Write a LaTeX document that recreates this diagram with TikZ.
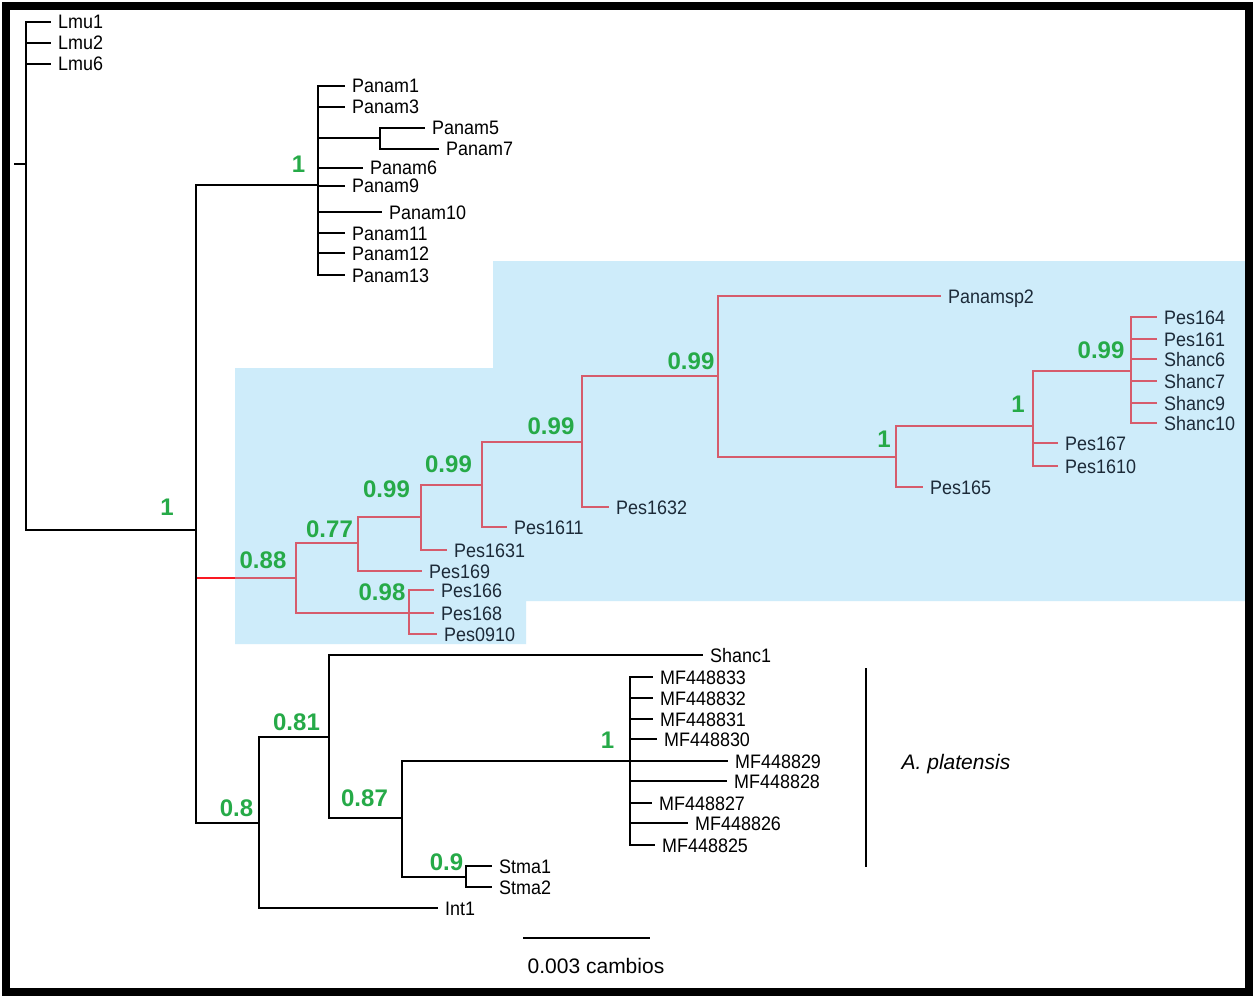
\documentclass[tikz,border=0pt]{standalone}
\usepackage{fontspec}
\setmainfont{Liberation Sans}
\newfontfamily\tipfont[FakeStretch=0.92]{Liberation Sans}
\definecolor{suppgreen}{RGB}{38,170,72}
\definecolor{brightred}{RGB}{250,25,35}
\definecolor{cladered}{RGB}{214,92,108}
\definecolor{hlblue}{RGB}{206,236,250}
\definecolor{cladetext}{RGB}{28,42,56}
\newcommand\mytip[5]{%
  \coordinate (t#1) at (#2,#3);
  \draw[#5] (#4) |- (t#1);
  \node[tiplab,#5lab] (l#1) at (t#1) {#1};}
\newcommand\myint[5]{%
  \coordinate (#1) at (#2,#3);
  \draw[#5] (#4) |- (#1);}
\begin{document}
\begin{tikzpicture}[x=1pt,y=-1pt,
  blk/.style={draw=black,line width=1.3pt},
  redb/.style={draw=cladered,line width=1.3pt},
  blklab/.style={text=black},
  redblab/.style={text=cladetext},
  tiplab/.style={anchor=west,inner xsep=7pt,inner ysep=0pt,
    font=\tipfont\fontsize{19.5}{19.5}\selectfont,text height=14pt,text depth=0pt},
  supp/.style={anchor=center,inner sep=0pt,text=suppgreen,
    font=\bfseries\fontsize{24}{24}\selectfont,text height=17pt,text depth=0pt}]
\useasboundingbox (0,0) rectangle (1257,995);
\fill[white] (0,0) rectangle (1257,995);

% highlighted region
\fill[hlblue]
  (235,368) -- (493,368) -- (493,261) -- (1247,261) -- (1247,601)
  -- (526,601) -- (526,644) -- (235,644) -- cycle;

% root
\coordinate (R) at (26,164);
\coordinate (Rtick) at (14,164);
\draw[blk] (Rtick) -- (R);
\mytip{Lmu1}{51}{22}{R}{blk}
\mytip{Lmu2}{51}{43}{R}{blk}
\mytip{Lmu6}{51}{64}{R}{blk}
\coordinate (N1) at (196,530);

% red clade (drawn first)
\myint{A88}{296}{578}{N1}{redb}
\coordinate (A88in) at (235,578);
\draw[brightred,line width=1.3pt] (N1 |- A88) -- (A88in);
\myint{A77}{358}{543}{A88}{redb}
\myint{A98}{409}{613}{A88}{redb}
\myint{A99a}{421}{517}{A77}{redb}
\mytip{Pes169}{422}{571}{A77}{redb}
\myint{A99b}{482}{485}{A99a}{redb}
\mytip{Pes1631}{447}{550}{A99a}{redb}
\myint{A99c}{582}{442}{A99b}{redb}
\mytip{Pes1611}{507}{527}{A99b}{redb}
\myint{A99d}{718}{376}{A99c}{redb}
\mytip{Pes1632}{609}{507}{A99c}{redb}
\mytip{Panamsp2}{941}{296}{A99d}{redb}
\myint{A1a}{896}{457}{A99d}{redb}
\myint{A1b}{1033}{426}{A1a}{redb}
\mytip{Pes165}{923}{487}{A1a}{redb}
\myint{A99e}{1131}{371}{A1b}{redb}
\mytip{Pes167}{1058}{443}{A1b}{redb}
\mytip{Pes1610}{1058}{466}{A1b}{redb}
\mytip{Pes164}{1157}{317}{A99e}{redb}
\mytip{Pes161}{1157}{339}{A99e}{redb}
\mytip{Shanc6}{1157}{359}{A99e}{redb}
\mytip{Shanc7}{1157}{381}{A99e}{redb}
\mytip{Shanc9}{1157}{403}{A99e}{redb}
\mytip{Shanc10}{1157}{423}{A99e}{redb}
\mytip{Pes166}{434}{590}{A98}{redb}
\mytip{Pes168}{434}{613}{A98}{redb}
\mytip{Pes0910}{437}{634}{A98}{redb}

% ingroup node
\draw[blk] (R) |- (N1);
% Panam clade
\myint{P}{318}{185}{N1}{blk}
\mytip{Panam1}{345}{86}{P}{blk}
\mytip{Panam3}{345}{107}{P}{blk}
\myint{P57}{380}{138}{P}{blk}
\mytip{Panam5}{425}{128}{P57}{blk}
\mytip{Panam7}{439}{149}{P57}{blk}
\mytip{Panam6}{363}{168}{P}{blk}
\mytip{Panam9}{345}{186}{P}{blk}
\mytip{Panam10}{382}{212}{P}{blk}
\mytip{Panam11}{345}{233}{P}{blk}
\mytip{Panam12}{345}{253}{P}{blk}
\mytip{Panam13}{345}{275}{P}{blk}

% bottom clade
\myint{B8}{259}{823}{N1}{blk}
\myint{B81}{329}{737}{B8}{blk}
\mytip{Int1}{438}{908}{B8}{blk}
\mytip{Shanc1}{703}{655}{B81}{blk}
\myint{B87}{402}{818}{B81}{blk}
\myint{M1}{630}{761}{B87}{blk}
\myint{B9}{466}{877}{B87}{blk}
\mytip{Stma1}{492}{866}{B9}{blk}
\mytip{Stma2}{492}{887}{B9}{blk}
\mytip{MF448833}{653}{677}{M1}{blk}
\mytip{MF448832}{653}{698}{M1}{blk}
\mytip{MF448831}{653}{719}{M1}{blk}
\mytip{MF448830}{657}{739}{M1}{blk}
\mytip{MF448829}{728}{761}{M1}{blk}
\mytip{MF448828}{727}{781}{M1}{blk}
\mytip{MF448827}{652}{803}{M1}{blk}
\mytip{MF448826}{688}{823}{M1}{blk}
\mytip{MF448825}{655}{845}{M1}{blk}

% support values
\node[supp] (sN1) at (167,507) {1};
\node[supp] (sP) at (298.5,164) {1};
\node[supp] (sA88) at (263,559.5) {0.88};
\node[supp] (sA77) at (329.5,528.5) {0.77};
\node[supp] (sA99a) at (386.5,489) {0.99};
\node[supp] (sA99b) at (448.5,464) {0.99};
\node[supp] (sA99c) at (551,425.5) {0.99};
\node[supp] (sA99d) at (691,360.5) {0.99};
\node[supp] (sA1a) at (884,438.5) {1};
\node[supp] (sA1b) at (1018,404) {1};
\node[supp] (sA99e) at (1101,350) {0.99};
\node[supp] (sA98) at (382,592) {0.98};
\node[supp] (sB81) at (296.5,721.5) {0.81};
\node[supp] (sB8) at (236.5,807.5) {0.8};
\node[supp] (sB87) at (364.5,798) {0.87};
\node[supp] (sB9) at (446.5,862) {0.9};
\node[supp] (sM1) at (607.5,740) {1};

% A. platensis bracket
\coordinate (brtop) at (866,668);
\coordinate (brbot) at (866,867);
\draw[blk] (brtop) -- (brbot);
\node[anchor=center,inner sep=0pt,font=\itshape\fontsize{21}{21}\selectfont,
  text height=15pt,text depth=0pt] (plat) at (956,762) {A. platensis};

% scale bar
\coordinate (sbl) at (523,938);
\coordinate (sbr) at (650,938);
\draw[blk] (sbl) -- (sbr);
\node[anchor=center,inner sep=0pt,font=\fontsize{21}{21}\selectfont,
  text height=15pt,text depth=0pt] (sbtext) at (596,965.5) {0.003 cambios};

% frame
\draw[line width=8pt] (6,6) rectangle (1248.5,991.5);
\end{tikzpicture}
\end{document}
